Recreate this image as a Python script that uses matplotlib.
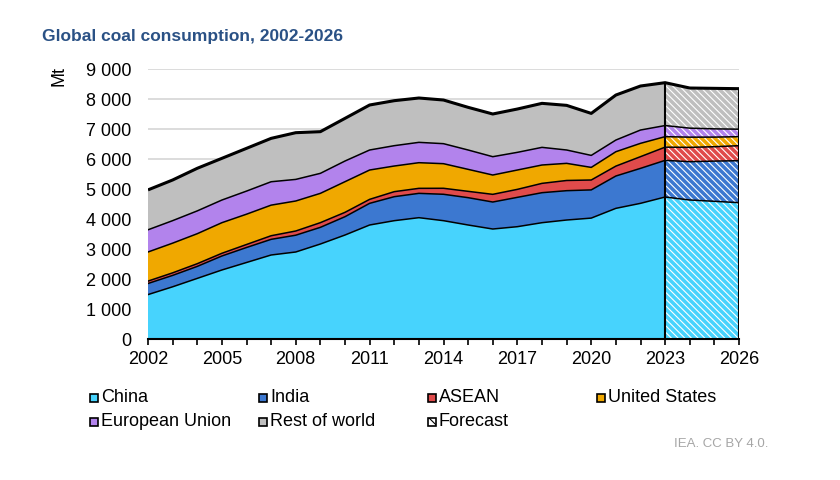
import matplotlib
matplotlib.use("Agg")
import matplotlib.pyplot as plt
import numpy as np
from matplotlib.patches import Rectangle
from matplotlib.ticker import FuncFormatter

plt.rcParams['font.family'] = ['Liberation Sans', 'DejaVu Sans']
plt.rcParams['hatch.linewidth'] = 0.8

years = list(range(2002, 2027))
forecast_start = 2023

china = [1480, 1740, 2020, 2300, 2550, 2800, 2900, 3166, 3466, 3800, 3944, 4044, 3944,
         3800, 3666, 3744, 3877, 3966, 4030, 4355, 4522, 4733, 4633, 4590, 4544]
india = [370, 380, 400, 467, 500, 522, 560, 556, 611, 722, 800, 811, 880,
         911, 900, 978, 1000, 978, 940, 1078, 1166, 1222, 1278, 1340, 1400]
asean = [80, 85, 90, 90, 100, 120, 140, 156, 145, 133, 167, 167, 200,
         211, 256, 266, 311, 340, 330, 330, 390, 440, 477, 480, 500]
united_states = [970, 990, 1000, 1020, 1010, 1020, 1000, 977, 1022, 978, 855, 855, 820,
                 733, 644, 645, 612, 571, 420, 480, 444, 350, 340, 320, 300]
european_union = [740, 750, 760, 755, 770, 780, 720, 667, 689, 667, 678, 678, 667,
                  645, 611, 589, 588, 445, 400, 389, 444, 370, 300, 275, 250]
rest_of_world = [1330, 1355, 1420, 1390, 1425, 1446, 1557, 1389, 1422, 1500, 1500, 1478, 1455,
                 1422, 1423, 1444, 1467, 1488, 1400, 1500, 1467, 1429, 1338, 1350, 1350]

series_names = ["China", "India", "ASEAN", "United States", "European Union", "Rest of world"]
series_vals = [china, india, asean, united_states, european_union, rest_of_world]
colors = ["#47d3fd", "#3c78d0", "#e04b4b", "#f0a800", "#b283ec", "#bfbfbf"]

yticks = [0, 1000, 2000, 3000, 4000, 5000, 6000, 7000, 8000, 9000]
xtick_labels = [2002, 2005, 2008, 2011, 2014, 2017, 2020, 2023, 2026]

W, H = 840, 480
fig = plt.figure(figsize=(W / 100, H / 100), dpi=100)
ax = fig.add_axes([148 / W, 1 - 339 / H, (739 - 148) / W, (339 - 69) / H])

x = np.array(years, dtype=float)
data = np.array(series_vals, dtype=float)
cum = np.vstack([np.zeros(len(x)), np.cumsum(data, axis=0)])

fc = x >= forecast_start

for i, c in enumerate(colors):
    ax.fill_between(x, cum[i], cum[i + 1], facecolor=c, edgecolor='none', linewidth=0, zorder=2)
    ax.fill_between(x[fc], cum[i][fc], cum[i + 1][fc], facecolor='none', edgecolor='white',
                    hatch='\\' * 5, linewidth=0, zorder=3)

for i in range(1, len(colors)):
    ax.plot(x, cum[i], color='black', lw=1.1, zorder=4, solid_joinstyle='round')
ax.plot(x, cum[-1], color='black', lw=2.2, zorder=5, solid_joinstyle='round', solid_capstyle='butt')

idx23 = years.index(forecast_start)
ax.plot([forecast_start, forecast_start], [0, cum[-1][idx23]], color='black', lw=1.5, zorder=5)
ax.plot([years[-1], years[-1]], [0, cum[-1][-1]], color='black', lw=1.5, zorder=5)

ax.set_xlim(years[0], years[-1])
ax.set_ylim(0, 9000)
ax.set_yticks(yticks)
ax.yaxis.set_major_formatter(FuncFormatter(lambda v, p: f"{int(v):,}".replace(",", " ")))
ax.grid(axis='y', color='#d9d9d9', lw=1.3, zorder=0)
ax.set_axisbelow(True)

ax.set_xticks(years, minor=True)
ax.set_xticks(xtick_labels)
ax.set_xticklabels([str(v) for v in xtick_labels])
ax.tick_params(axis='x', which='both', direction='out', length=4, width=1.2, color='black',
               labelsize=13, pad=5)
ax.tick_params(axis='y', length=0, labelsize=13, pad=12)

for s in ['left', 'right', 'top']:
    ax.spines[s].set_visible(False)
ax.spines['bottom'].set_linewidth(1.5)
ax.spines['bottom'].set_zorder(6)

fig.text(42 / W, 1 - 36 / H, "Global coal consumption, 2002-2026", fontsize=12.5,
         fontweight='bold', color='#2a5185', ha='left', va='center')
fig.text(59 / W, 1 - 76 / H, "Mt", fontsize=13, rotation=90, ha='center', va='center')

# legend (manual)
leg_x = [94, 263, 432, 601]
leg_y = [398, 422]
entries = [(n, c, None) for n, c in zip(series_names, colors)] + [("Forecast", "white", '\\\\\\')]
msz = 8
for k, (name, col, hat) in enumerate(entries):
    cx = leg_x[k % 4]
    cy = leg_y[k // 4]
    r = Rectangle(((cx - msz / 2) / W, 1 - (cy + msz / 2) / H), msz / W, msz / H,
                  transform=fig.transFigure, facecolor=col, edgecolor='black', lw=1.2,
                  hatch=hat, figure=fig)
    fig.patches.append(r)
    fig.text((cx + 7) / W, 1 - cy / H, name, fontsize=13, ha='left', va='center')

fig.text(768 / W, 1 - 444 / H, "IEA. CC BY 4.0.", fontsize=9.5, color='#a6a6a6',
         ha='right', va='center')

fig.savefig("out.png", dpi=100)
